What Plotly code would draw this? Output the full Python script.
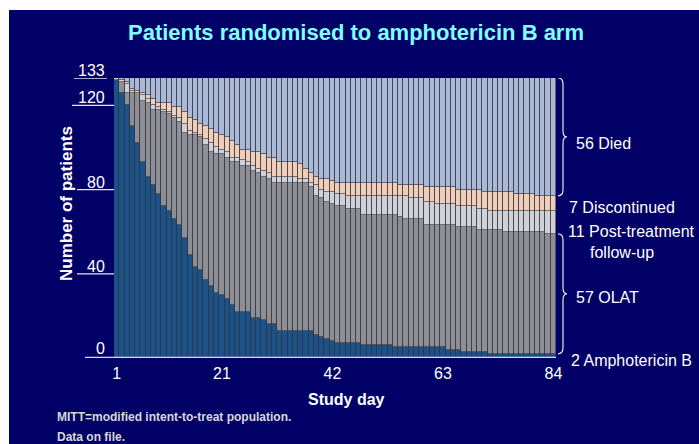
import plotly.graph_objects as go

# Patients remaining in each status on each study day (MITT, amphotericin B arm)
days = list(range(1, 85))

amphotericin_b = [132, 126, 120, 110, 102, 93, 86, 82, 78, 72, 70, 66, 63, 57, 49, 43, 42, 37, 34, 31,
                  30, 28, 25, 22, 22, 22, 19, 19, 18, 16, 16, 13, 13, 13, 13, 13, 13, 13, 11, 10,
                  9, 8, 7, 7, 7, 7, 7, 6, 6, 6, 6, 6, 6, 5, 5, 5, 5, 5, 5, 5,
                  5, 5, 5, 4, 4, 4, 3, 3, 3, 3, 3, 2, 2, 2, 2, 2, 2, 2, 2, 2,
                  2, 2, 2, 2]
olat = [0, 5, 6, 16, 24, 29, 35, 36, 40, 45, 46, 48, 49, 50, 57, 63, 63, 64, 64, 66,
        67, 67, 68, 71, 69, 69, 70, 69, 68, 69, 67, 70, 70, 70, 70, 70, 70, 68, 66, 66,
        65, 65, 65, 65, 64, 64, 64, 62, 62, 62, 62, 62, 62, 63, 62, 61, 61, 61, 61, 58,
        58, 58, 58, 59, 59, 58, 59, 59, 59, 58, 58, 59, 59, 59, 58, 58, 58, 58, 58, 58,
        58, 58, 57, 57]
post_treatment = [0, 0, 4, 1, 0, 3, 2, 2, 1, 1, 1, 1, 2, 4, 2, 1, 1, 3, 4, 3,
                  2, 3, 2, 2, 3, 2, 2, 2, 3, 3, 3, 3, 3, 3, 3, 2, 2, 2, 5, 4,
                  5, 6, 6, 6, 6, 6, 6, 9, 9, 9, 9, 9, 9, 9, 10, 11, 10, 10, 10, 11,
                  11, 10, 10, 10, 10, 10, 10, 10, 10, 10, 10, 9, 9, 9, 10, 10, 10, 10, 10, 10,
                  10, 10, 11, 11]
discontinued = [1, 1, 1, 1, 1, 1, 2, 3, 2, 3, 4, 4, 5, 6, 6, 6, 5, 6, 7, 7,
                7, 7, 8, 6, 5, 6, 7, 8, 8, 7, 9, 7, 7, 7, 7, 7, 5, 5, 4, 5,
                6, 5, 5, 5, 6, 6, 6, 6, 6, 6, 6, 6, 6, 6, 5, 5, 6, 6, 6, 7,
                7, 8, 8, 8, 8, 8, 8, 8, 8, 9, 8, 9, 9, 9, 9, 9, 8, 8, 8, 8,
                7, 7, 7, 7]
died = [0, 1, 2, 5, 6, 7, 8, 10, 12, 12, 12, 14, 14, 16, 19, 20, 22, 23, 24, 26,
        27, 28, 30, 32, 34, 34, 35, 35, 36, 38, 38, 40, 40, 40, 40, 41, 43, 45, 47, 48,
        48, 49, 50, 50, 50, 50, 50, 50, 50, 50, 50, 50, 50, 50, 51, 51, 51, 51, 51, 52,
        52, 52, 52, 52, 52, 53, 53, 53, 53, 53, 54, 54, 54, 54, 54, 54, 55, 55, 55, 55,
        56, 56, 56, 56]

x_ticks = [1, 21, 42, 63, 84]
y_ticks = [0, 40, 80, 120, 133]

# Figure geometry (pixels)
W, H = 699, 444
L, R, T, B = 114, 143, 78, 86
PW, PH = W - L - R, H - T - B


def px(x):
    return (x - L) / PW


def py(y):
    return (H - B - y) / PH


NAVY = "#000066"
FONT = "Liberation Sans, Arial, sans-serif"
EDGE = dict(color="rgba(50,50,62,0.7)", width=0.9)

layers = [
    ("Amphotericin B", amphotericin_b, "#1B5389"),
    ("OLAT", olat, "#8E8F94"),
    ("Post-treatment follow-up", post_treatment, "#CFD1D6"),
    ("Discontinued", discontinued, "#EFCDB7"),
    ("Died", died, "#A9B8D6"),
]

fig = go.Figure()
for name, vals, col in layers:
    fig.add_trace(go.Bar(x=days, y=vals, name=name, width=1,
                         marker=dict(color=col, line=EDGE),
                         showlegend=False))

shapes = [
    # white frame strips along top and left edges of the slide
    dict(type="rect", xref="paper", yref="paper", x0=px(-5), x1=px(W + 5),
         y0=py(10), y1=py(-5), fillcolor="white", line_width=0, layer="below"),
    dict(type="rect", xref="paper", yref="paper", x0=px(-5), x1=px(9),
         y0=py(H + 5), y1=py(-5), fillcolor="white", line_width=0, layer="below"),
    # baseline
    dict(type="line", xref="paper", yref="y", x0=px(85), x1=1.0, y0=0, y1=0,
         line=dict(color="#DADADA", width=2.5), layer="above"),
]

annotations = []
for v in y_ticks:
    if v == 0:
        annotations.append(dict(x=px(107), y=v, xref="paper", yref="y", text=str(v),
                                xanchor="right", yanchor="bottom", yshift=-1, showarrow=False,
                                font=dict(family=FONT, size=16, color="white")))
        continue
    x0 = px(74) if v == max(y_ticks) else (px(72) if v == 120 else px(77))
    x1 = px(107) if v == max(y_ticks) else 0.0
    shapes.append(dict(type="line", xref="paper", yref="y", x0=x0, x1=x1, y0=v, y1=v,
                       line=dict(color="#E6E6E6", width=1.3)))
    annotations.append(dict(x=px(107), y=v, xref="paper", yref="y", text=str(v),
                            xanchor="right", yanchor="bottom", yshift=-3, showarrow=False,
                            font=dict(family=FONT, size=16, color="white")))


def brace(top, bottom):
    xl, xv, xt = px(558), px(563), px(567)
    d = 3.0
    mid = (top + bottom) / 2
    path = (f"M {xl},{top} Q {xv},{top} {xv},{top - d} "
            f"L {xv},{mid + d} Q {xv},{mid} {xt},{mid} "
            f"Q {xv},{mid} {xv},{mid - d} "
            f"L {xv},{bottom + d} Q {xv},{bottom} {xl},{bottom}")
    return dict(type="path", xref="paper", yref="y", path=path,
                line=dict(color="#E6E6E6", width=1.2))


total = amphotericin_b[-1] + olat[-1] + post_treatment[-1] + discontinued[-1] + died[-1]
shapes.append(brace(total, total - died[-1]))
shapes.append(brace(amphotericin_b[-1] + olat[-1], amphotericin_b[-1]))

side = [
    (f"{died[-1]} Died", 574, 143),
    (f"{discontinued[-1]} Discontinued", 567, 207),
    (f"{post_treatment[-1]} Post-treatment", 566, 231),
    ("follow-up", 588, 252),
    (f"{olat[-1]} OLAT", 574, 297),
    (f"{amphotericin_b[-1]} Amphotericin B", 569, 360),
]
for txt, x, y in side:
    annotations.append(dict(x=px(x), y=py(y), xref="paper", yref="paper", text=txt,
                            xanchor="left", yanchor="middle", showarrow=False,
                            font=dict(family=FONT, size=16, color="white")))

annotations += [
    dict(x=px(356), y=py(33), xref="paper", yref="paper",
         text="<b>Patients randomised to amphotericin B arm</b>",
         xanchor="center", yanchor="middle", showarrow=False,
         font=dict(family=FONT, size=22, color="#80FFFF")),
    dict(x=px(346), y=py(399), xref="paper", yref="paper", text="<b>Study day</b>",
         xanchor="center", yanchor="middle", showarrow=False,
         font=dict(family=FONT, size=16, color="white")),
    dict(x=px(66), y=py(204), xref="paper", yref="paper", text="<b>Number of patients</b>",
         textangle=-90, xanchor="center", yanchor="middle", showarrow=False,
         font=dict(family=FONT, size=17, color="white")),
    dict(x=px(55), y=py(417), xref="paper", yref="paper",
         text="<b>MITT=modified intent-to-treat population.</b>",
         xanchor="left", yanchor="middle", showarrow=False,
         font=dict(family=FONT, size=12, color="#D8D8D8")),
    dict(x=px(55), y=py(437), xref="paper", yref="paper", text="<b>Data on file.</b>",
         xanchor="left", yanchor="middle", showarrow=False,
         font=dict(family=FONT, size=12, color="#D8D8D8")),
]

fig.update_layout(
    width=W, height=H,
    margin=dict(l=L, r=R, t=T, b=B, pad=0),
    paper_bgcolor=NAVY, plot_bgcolor=NAVY,
    barmode="stack", bargap=0,
    shapes=shapes, annotations=annotations,
    xaxis=dict(range=[0.5, 84.5], tickvals=x_ticks, ticktext=[str(v) for v in x_ticks],
               showgrid=False, zeroline=False, showline=False,
               ticks="outside", ticklen=1, tickcolor="rgba(0,0,0,0)",
               tickfont=dict(family=FONT, size=16, color="white"), fixedrange=True),
    yaxis=dict(range=[0, 133], showgrid=False, zeroline=False, showline=False,
               showticklabels=False, ticks="", fixedrange=True),
)

fig.write_html("out.html", config={"displayModeBar": False})
